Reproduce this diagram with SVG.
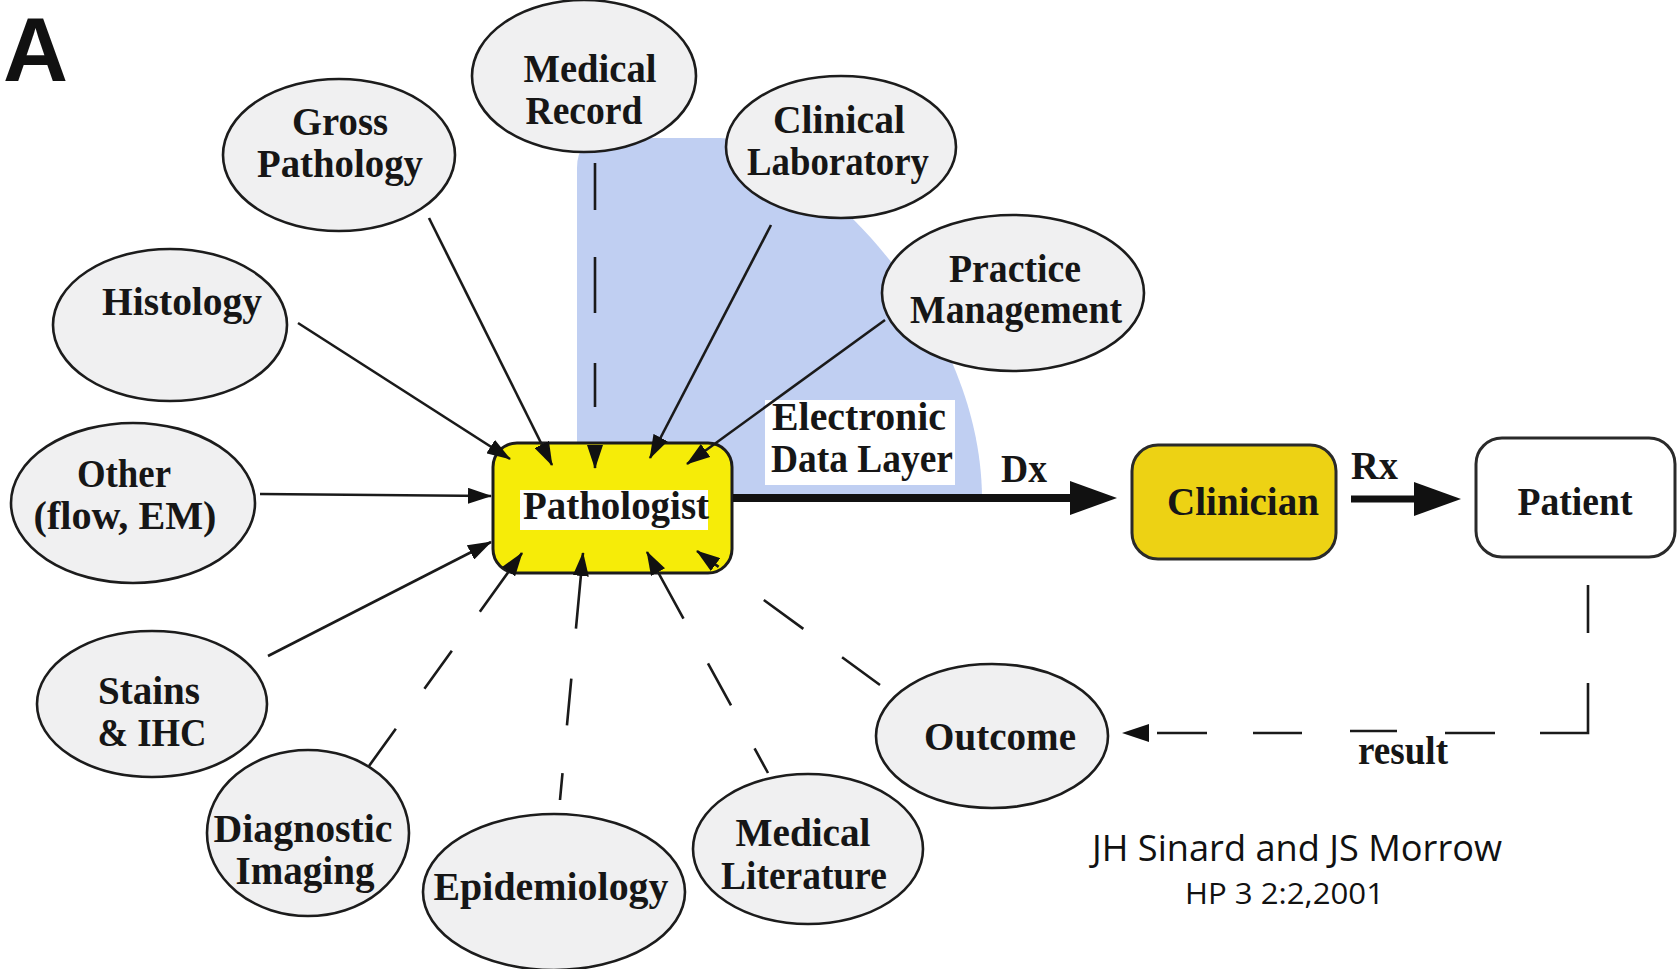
<svg xmlns="http://www.w3.org/2000/svg" width="1679" height="969" viewBox="0 0 1679 969">
<style>
.ell{fill:#f0f0f1;stroke:#1c1c1c;stroke-width:2.6}
.lbl{font-family:"Liberation Serif","Times New Roman",serif;font-weight:bold;font-size:40px;fill:#161616;text-anchor:middle}
.lbll{font-family:"Liberation Serif","Times New Roman",serif;font-weight:bold;font-size:40px;fill:#161616}
.con{fill:none;stroke:#1a1a1a;stroke-width:2.6;marker-end:url(#ah)}
.dash{fill:none;stroke:#1a1a1a;stroke-width:2.6;marker-end:url(#ah)}
.cite{font-family:"Open Sans","Noto Sans",sans-serif;fill:#111}
</style>
<defs>
<marker id="ah" viewBox="0 0 24 16" refX="23" refY="8" markerWidth="24" markerHeight="16" markerUnits="userSpaceOnUse" orient="auto"><path d="M0,0 L24,8 L0,16 z" fill="#111"/></marker>
<marker id="big" viewBox="0 0 47 34" refX="1" refY="17" markerWidth="47" markerHeight="34" markerUnits="userSpaceOnUse" orient="auto"><path d="M0,0 L47,17 L0,34 z" fill="#111"/></marker>
</defs>
<rect width="1679" height="969" fill="#ffffff"/>
<text x="3" y="81" font-family="Liberation Sans, Arial, sans-serif" font-weight="bold" font-size="90" fill="#111">A</text>

<!-- Electronic data layer -->
<g id="electronic-data-layer">
<path d="M577,497 L577,168 Q577,138 607,138 L720,138 C790,140 980,300 982,497 Z" fill="#c0cff2"/>
<rect x="765" y="400" width="190" height="85" fill="#ffffff"/>
<text class="lbll" x="772" y="430" textLength="174" lengthAdjust="spacingAndGlyphs" font-weight="normal">Electronic</text>
<text class="lbll" x="771" y="472" textLength="182" lengthAdjust="spacingAndGlyphs" font-weight="normal">Data Layer</text>
</g>

<g id="medical-record"><ellipse class="ell" cx="584" cy="76" rx="112" ry="76"/>
<text class="lbl" x="590" y="82" textLength="133" lengthAdjust="spacingAndGlyphs">Medical</text>
<text class="lbl" x="584" y="124" textLength="117" lengthAdjust="spacingAndGlyphs">Record</text></g>

<g id="gross-pathology"><ellipse class="ell" cx="339" cy="155" rx="116" ry="76"/>
<text class="lbl" x="340" y="135" textLength="96" lengthAdjust="spacingAndGlyphs">Gross</text>
<text class="lbl" x="340" y="177" textLength="166" lengthAdjust="spacingAndGlyphs">Pathology</text></g>

<g id="histology"><ellipse class="ell" cx="170" cy="325" rx="117" ry="76"/>
<text class="lbl" x="182" y="315" textLength="160" lengthAdjust="spacingAndGlyphs">Histology</text></g>

<g id="clinical-laboratory"><ellipse class="ell" cx="841" cy="147" rx="115" ry="71"/>
<text class="lbl" x="839" y="133" textLength="132" lengthAdjust="spacingAndGlyphs">Clinical</text>
<text class="lbl" x="838" y="175" textLength="182" lengthAdjust="spacingAndGlyphs">Laboratory</text></g>

<g id="practice-management"><ellipse class="ell" cx="1013" cy="293" rx="131" ry="78"/>
<text class="lbl" x="1015" y="282" textLength="132" lengthAdjust="spacingAndGlyphs">Practice</text>
<text class="lbl" x="1016" y="323" textLength="212" lengthAdjust="spacingAndGlyphs">Management</text></g>

<g id="other"><ellipse class="ell" cx="133" cy="503" rx="122" ry="80"/>
<text class="lbl" x="124" y="487" textLength="94" lengthAdjust="spacingAndGlyphs">Other</text>
<text class="lbl" x="125" y="529" textLength="183" lengthAdjust="spacingAndGlyphs">(flow, EM)</text></g>

<g id="stains-ihc"><ellipse class="ell" cx="152" cy="704" rx="115" ry="73"/>
<text class="lbl" x="149" y="704" textLength="102" lengthAdjust="spacingAndGlyphs">Stains</text>
<text class="lbl" x="152" y="746" textLength="109" lengthAdjust="spacingAndGlyphs">&amp; IHC</text></g>

<g id="diagnostic-imaging"><ellipse class="ell" cx="308" cy="833" rx="101" ry="83"/>
<text class="lbl" x="303" y="842" textLength="179" lengthAdjust="spacingAndGlyphs">Diagnostic</text>
<text class="lbl" x="305" y="884" textLength="139" lengthAdjust="spacingAndGlyphs">Imaging</text></g>

<g id="epidemiology"><ellipse class="ell" cx="554" cy="892" rx="131" ry="78"/>
<text class="lbl" x="551" y="900" textLength="235" lengthAdjust="spacingAndGlyphs">Epidemiology</text></g>

<g id="medical-literature"><ellipse class="ell" cx="808" cy="849" rx="115" ry="75"/>
<text class="lbl" x="803" y="846" textLength="135" lengthAdjust="spacingAndGlyphs">Medical</text>
<text class="lbl" x="804" y="889" textLength="166" lengthAdjust="spacingAndGlyphs">Literature</text></g>

<g id="outcome"><ellipse class="ell" cx="992" cy="736" rx="116" ry="72"/>
<text class="lbl" x="1000" y="750" textLength="152" lengthAdjust="spacingAndGlyphs">Outcome</text></g>

<g id="pathologist"><rect x="493" y="443" width="239" height="130" rx="24" fill="#f6ec08" stroke="#1c1c1c" stroke-width="3"/>
<rect x="520" y="490" width="188" height="40" fill="#ffffff"/>
<text class="lbl" x="616" y="519" textLength="186" lengthAdjust="spacingAndGlyphs">Pathologist</text></g>

<g id="clinician"><rect x="1132" y="445" width="204" height="114" rx="26" fill="#edd214" stroke="#2a2a2a" stroke-width="3"/>
<text class="lbl" x="1243" y="515" textLength="152" lengthAdjust="spacingAndGlyphs">Clinician</text></g>

<g id="patient"><rect x="1476" y="438" width="199" height="119" rx="26" fill="#ffffff" stroke="#2a2a2a" stroke-width="3"/>
<text class="lbl" x="1575" y="515" textLength="115" lengthAdjust="spacingAndGlyphs">Patient</text></g>

<g id="connectors">
<path class="con" d="M298,323 L510,459"/>
<path class="con" d="M429,218 L552,465"/>
<path class="dash" d="M595,163 L595,468" stroke-dasharray="47 47 56 50 44 40 40"/>
<path class="con" d="M771,225 L650,458"/>
<path class="con" d="M885,320 L687,464"/>
<path class="con" d="M260,494 L491,496"/>
<path class="con" d="M268,656 L491,542"/>
<path class="dash" d="M369,766 L522,553" stroke-dasharray="46 49 47 48 80"/>
<path class="dash" d="M560,800 L583,553" stroke-dasharray="27 48 47 50 80"/>
<path class="dash" d="M768,773 L647,552" stroke-dasharray="28 49 48 51 80"/>
<path class="dash" d="M880,685 L697,551" stroke-dasharray="47 48 49 56 40"/>
<path d="M733,498 L1071,498" fill="none" stroke="#111" stroke-width="8" marker-end="url(#big)"/>
<path d="M1351,499 L1415,499" fill="none" stroke="#111" stroke-width="7" marker-end="url(#big)"/>
<path d="M1588,585 V633 M1588,683 V733 H1540 M1495,733 H1445 M1397,731 H1350 M1302,733 H1253 M1207,733 H1157" fill="none" stroke="#1a1a1a" stroke-width="2.6"/>
<polygon points="1149,724 1122,733 1149,742" fill="#111"/>
<text class="lbll" x="1001" y="482" textLength="46" lengthAdjust="spacingAndGlyphs" font-weight="normal">Dx</text>
<text class="lbll" x="1351" y="479" textLength="47" lengthAdjust="spacingAndGlyphs" font-weight="normal">Rx</text>
<text class="lbll" x="1358" y="764" textLength="90" lengthAdjust="spacingAndGlyphs">result</text>
</g>

<text class="cite" x="1092" y="861" font-size="37" textLength="410" lengthAdjust="spacingAndGlyphs">JH Sinard and JS Morrow</text>
<text class="cite" x="1185" y="904" font-size="29" textLength="199" lengthAdjust="spacingAndGlyphs">HP 3 2:2,2001</text>
</svg>
